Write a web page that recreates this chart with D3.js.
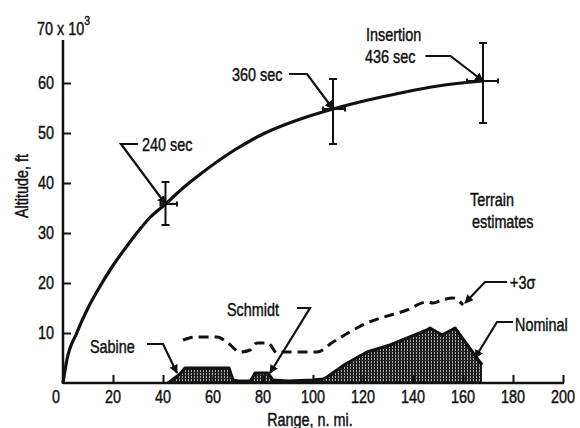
<!DOCTYPE html>
<html>
<head>
<meta charset="utf-8">
<script src="https://cdn.jsdelivr.net/npm/d3@7"></script>
<style>
  html, body { margin: 0; padding: 0; background: #fff; }
  svg text { font-family: "Liberation Sans", Arial, sans-serif; font-size: 18px; fill: #111; stroke: #111; stroke-width: 0.45px; }
</style>
</head>
<body>
<div id="chart"></div>
<script>
// range (n. mi.) vs altitude (thousands of ft)
var trajectory = [
  [0, 0], [1.5, 4.5], [5.5, 10], [10, 15], [15, 19.5], [20, 23.5], [25, 27], [30, 30.3],
  [35, 33.2], [41, 35.8], [48, 39], [55, 41.8], [68, 46.4], [80, 49.8], [95, 52.8],
  [108, 54.8], [122, 56.6], [135, 58], [150, 59.4], [168, 60.4]
];

// error crosses at the labelled times
var markTimes = ["240 sec", "360 sec", "436 sec"];
var markRange = [41, 108, 168];
var markAlt   = [35.8, 54.8, 60.4];
var markAltLo = [31.6, 47.8, 52];
var markAltHi = [40.2, 60.8, 68];
var markRangeLo = [39, 104, 161.6];
var markRangeHi = [45.6, 112.8, 174];

// nominal terrain profile
var terrainNominal = [
  [42, 0], [46.8, 1.8], [48.8, 3], [66.4, 3], [68, 0.6], [70, 0.4], [75, 0.4], [76.8, 2],
  [82, 2], [84, 0.6], [90, 0.4], [100, 0.6], [104, 0.8], [105.6, 1.2], [113, 3.8],
  [121.6, 6.2], [130.8, 7.6], [145.6, 10.6], [146.8, 11], [151.6, 9.6], [156.8, 11],
  [167.6, 3.6], [167.6, 0]
];

// +3 sigma terrain profile
var terrainSigma = [
  [48, 8.6], [53, 9.2], [61.6, 9.2], [66, 8], [70.8, 6.2], [74.8, 6.6], [77.6, 8],
  [82, 8], [85.6, 6], [88, 6.2], [90.8, 6.2], [101.6, 6.2], [108, 8.2], [121.6, 12],
  [137.6, 14.6], [145.6, 16.2], [148, 16], [151.6, 16.6], [156, 17], [160, 15.6]
];

var xTicks = [0, 20, 40, 60, 80, 100, 120, 140, 160, 180, 200];
var yTicks = [10, 20, 30, 40, 50, 60];

// callouts: text lines [x, y, text], leader polyline ending in an arrow
var callouts = [
  { lines: [[31.6, 47.6, "240 sec"]], leader: [[30, 47.8], [23.2, 47.8], [41, 35.8]] },
  { lines: [[67.6, 61.6, "360 sec"]], leader: [[90.4, 61.8], [97.6, 61.8], [108, 54.8]] },
  { lines: [[121.2, 69.6, "Insertion"], [120.8, 65.2, "436 sec"]], leader: [[145, 65.4], [155, 65.4], [168, 60.4]] },
  { lines: [[162.8, 36.6, "Terrain"], [163.6, 32.2, "estimates"]], leader: null },
  { lines: [[178.8, 20, "+3\u03c3"]], leader: [[177.6, 20.2], [168.8, 20.2], [160.8, 16]] },
  { lines: [[180.8, 11.6, "Nominal"]], leader: [[180, 12.2], [173.6, 12.2], [164.8, 5]] },
  { lines: [[65.6, 14.6, "Schmidt"]], leader: [[93.6, 15], [98.8, 15], [82.8, 2]] },
  { lines: [[10.8, 7.2, "Sabine"]], leader: [[33.6, 7.8], [40, 7.8], [45.6, 2]] }
];

var width = 580, height = 428;
var x = d3.scaleLinear().domain([0, 200]).range([63, 563]);
var y = d3.scaleLinear().domain([0, 70]).range([383, 33]);

var svg = d3.select("#chart").append("svg")
  .attr("width", width).attr("height", height);

// condensed text: the original lettering is narrow
var SQ = 0.8;
function label(px, py, str, anchor, rot) {
  var g = svg.append("g").attr("transform",
    "translate(" + px + "," + py + ")" + (rot ? " rotate(" + rot + ")" : "") + " scale(" + SQ + ",1)");
  return g.append("text").attr("text-anchor", anchor || "start").text(str);
}

var defs = svg.append("defs");
var pat = defs.append("pattern").attr("id", "hatch")
  .attr("patternUnits", "userSpaceOnUse").attr("width", 3).attr("height", 3);
pat.append("rect").attr("width", 3).attr("height", 3).attr("fill", "#aaa");
pat.append("rect").attr("width", 1.9).attr("height", 3).attr("fill", "#111");
pat.append("rect").attr("width", 3).attr("height", 1).attr("fill", "#222");

defs.append("marker").attr("id", "arrow")
  .attr("viewBox", "0 0 10 10").attr("refX", 9).attr("refY", 5)
  .attr("markerWidth", 4).attr("markerHeight", 4).attr("orient", "auto")
  .attr("markerUnits", "strokeWidth")
  .append("path").attr("d", "M0,0 L10,5 L0,10 Z").attr("fill", "#111");

// terrain area
var line = d3.line().x(function(d) { return x(d[0]); }).y(function(d) { return y(d[1]); });
svg.append("path")
  .attr("d", line(terrainNominal) + "Z")
  .attr("fill", "url(#hatch)").attr("stroke", "none");
svg.append("path")
  .attr("d", line(terrainNominal.slice(0, terrainNominal.length - 1)))
  .attr("fill", "none").attr("stroke", "#111").attr("stroke-width", 3).attr("stroke-linejoin", "round");

svg.append("path")
  .attr("d", d3.line().x(function(d) { return x(d[0]); }).y(function(d) { return y(d[1]); })
    .curve(d3.curveMonotoneX)(terrainSigma))
  .attr("fill", "none").attr("stroke", "#111").attr("stroke-width", 3)
  .attr("stroke-dasharray", "10,6");

// axes
var yAxis = d3.axisRight(y).tickValues(yTicks).tickSize(8).tickFormat("");
var gy = svg.append("g").attr("transform", "translate(" + x(0) + ",0)").call(yAxis);
gy.select(".domain").remove();
gy.selectAll("line").attr("stroke", "#111").attr("stroke-width", 2);
svg.append("line").attr("x1", x(0)).attr("x2", x(0)).attr("y1", y(0) + 1).attr("y2", y(68.6))
  .attr("stroke", "#111").attr("stroke-width", 2.5);

var xAxis = d3.axisTop(x).tickValues(xTicks.slice(1)).tickSize(8).tickFormat("");
var gx = svg.append("g").attr("transform", "translate(0," + y(0) + ")").call(xAxis);
gx.select(".domain").remove();
gx.selectAll("line").attr("stroke", "#111").attr("stroke-width", 2);
svg.append("line").attr("x1", x(0)).attr("x2", x(200) + 1).attr("y1", y(0)).attr("y2", y(0))
  .attr("stroke", "#111").attr("stroke-width", 2.5);

xTicks.forEach(function(d) {
  label(d === 0 ? x(d) - 7 : x(d), y(0) + 20, d, "middle");
});
yTicks.forEach(function(d) {
  label(x(0) - 9, y(d) + 6, d, "end");
});

var expo = label(37, 35, "70 x 10", "start");
expo.append("tspan").attr("dy", -10).style("font-size", "13px").text("3");

label(28, 186, "Altitude, ft", "middle", -90);
label(310, 426, "Range, n. mi.", "middle");

// trajectory
svg.append("path")
  .attr("d", d3.line().x(function(d) { return x(d[0]); }).y(function(d) { return y(d[1]); })
    .curve(d3.curveMonotoneX)(trajectory))
  .attr("fill", "none").attr("stroke", "#111").attr("stroke-width", 3.2);

// error crosses
markTimes.forEach(function(t, i) {
  var g = svg.append("g").attr("stroke", "#111").attr("stroke-width", 2);
  var cx = x(markRange[i]), cy = y(markAlt[i]);
  g.append("line").attr("x1", cx).attr("x2", cx).attr("y1", y(markAltLo[i])).attr("y2", y(markAltHi[i]));
  g.append("line").attr("x1", cx - 4).attr("x2", cx + 4).attr("y1", y(markAltLo[i])).attr("y2", y(markAltLo[i]));
  g.append("line").attr("x1", cx - 4).attr("x2", cx + 4).attr("y1", y(markAltHi[i])).attr("y2", y(markAltHi[i]));
  g.append("line").attr("x1", x(markRangeLo[i])).attr("x2", x(markRangeHi[i])).attr("y1", cy).attr("y2", cy);
  g.append("line").attr("x1", x(markRangeHi[i])).attr("x2", x(markRangeHi[i])).attr("y1", cy - 2.5).attr("y2", cy + 2.5);
  g.append("line").attr("x1", x(markRangeLo[i])).attr("x2", x(markRangeLo[i])).attr("y1", cy - 2.5).attr("y2", cy + 2.5);
});

// callouts
callouts.forEach(function(c) {
  c.lines.forEach(function(l) {
    label(x(l[0]), y(l[1]) + 6, l[2], "start");
  });
  if (c.leader) {
    svg.append("path").attr("d", line(c.leader))
      .attr("fill", "none").attr("stroke", "#111").attr("stroke-width", 2.2)
      .attr("marker-end", "url(#arrow)");
  }
});
</script>
</body>
</html>
